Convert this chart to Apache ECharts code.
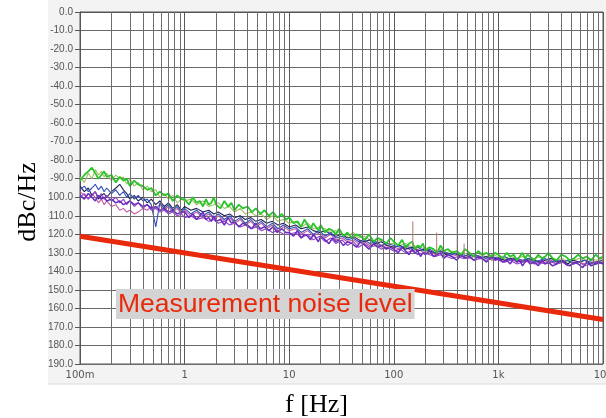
<!DOCTYPE html>
<html>
<head>
<meta charset="utf-8">
<script src="https://cdn.jsdelivr.net/npm/echarts@6/dist/echarts.min.js"></script>
<style>
  html, body { margin: 0; padding: 0; background: #fff; }
  #chart { width: 606px; height: 418px; }
</style>
</head>
<body>
<div id="chart"></div>
<script>
// ---- data ----
// coarse frequency grid (Hz)
const freq = [
  0.10,0.11,0.12,0.13,0.14,0.15,0.16,0.17,0.18,0.20,0.22,0.24,0.26,0.28,0.30,0.33,0.36,0.40,0.44,0.48,0.53,0.58,0.64,0.70,0.77,0.85,0.93,
  1.0,1.15,1.3,1.5,1.7,1.9,2.1,2.4,2.7,3.0,3.4,3.8,4.3,4.8,5.4,6.1,6.9,7.8,8.8,
  10,11.5,13,15,17,19.5,22,25,28,32,36,41,46,52,59,67,76,86,
  100,115,130,150,170,195,220,250,280,320,360,410,460,520,590,670,760,860,
  1000,1150,1300,1500,1700,1950,2200,2500,2800,3200,3600,4100,4600,5200,5900,6700,7600,8600,10000
];
// dense frequency grid (Hz) for the two dominant traces
const denseFreq = [
  0.10,0.11,0.12,0.13,0.14,0.15,0.16,0.17,0.18,0.20,0.22,0.24,0.26,0.28,0.30,0.33,0.36,0.40,0.44,0.48,0.53,0.58,0.64,0.70,0.77,0.85,0.93,
  1.0,1.1,1.2,1.3,1.4,1.5,1.6,1.7,1.8,1.9,2.0,2.2,2.4,2.6,2.8,3.0,3.3,3.6,4.0,4.4,4.8,5.3,5.8,6.4,7.0,7.7,8.5,9.3,
  10,11,12,13,14,15,16,17,18,19,20,22,24,26,28,30,33,36,40,44,48,53,58,64,70,77,85,93,
  100,110,120,130,140,150,160,170,180,190,200,220,240,260,280,300,330,360,400,440,480,530,580,640,700,770,850,930,
  1000,1100,1200,1300,1400,1500,1600,1700,1800,1900,2000,2200,2400,2600,2800,3000,3300,3600,4000,4400,4800,5300,5800,6400,7000,7700,8500,9300,10000
];

const olive = [
  -89,-92,-87,-90,-85,-88,-86,-89,-87,-91,-88,-90,-89,-93,-90,-94,-92,-96,-94,-97,-96,-100,-98,-101,-99,-103,-101,
  -102,-101,-104,-102,-105,-104,-103,-106,-105,-108,-106,-109,-108,-110,-109,-112,-110,-113,-112,
  -114,-113,-116,-114,-117,-116,-117,-119,-118,-120,-121,-119,-122,-121,-123,-124,-123,-125,
  -125,-126,-125,-127,-126,-128,-127,-129,-128,-130,-129,-131,-130,-131,-132,-131,-132,-131,
  -132,-133,-132,-133,-132,-134,-133,-132,-134,-133,-134,-133,-135,-134,-133,-134,-133,-134,-133
];
const pink = [
  -97,-99,-101,-98,-100,-103,-101,-104,-102,-105,-104,-107,-106,-108,-107,-109,-108,-106,-107,-105,-106,-104,-107,-105,-108,-106,-109,
  -107,-110,-108,-111,-109,-112,-110,-113,-111,-114,-112,-115,-113,-116,-114,-117,-115,-118,-116,
  -118,-117,-120,-118,-121,-119,-122,-120,-123,-122,-124,-123,-125,-124,-126,-125,-127,-126,
  -127,-128,-127,-129,-128,-130,-129,-131,-130,-131,-132,-131,-132,-133,-132,-133,-132,-134,
  -133,-134,-133,-135,-134,-135,-134,-136,-135,-134,-136,-135,-134,-136,-135,-136,-134,-135,-136
];
const navy = [
  -94,-97,-95,-99,-97,-101,-99,-98,-100,-97,-95,-93,-96,-98,-101,-99,-102,-100,-103,-101,-104,-102,-105,-103,-106,-104,-107,
  -105,-107,-106,-108,-107,-109,-108,-110,-109,-111,-110,-112,-111,-113,-112,-114,-113,-115,-114,
  -116,-115,-117,-116,-118,-119,-118,-120,-121,-120,-122,-121,-123,-124,-123,-125,-124,-126,
  -127,-126,-128,-127,-129,-128,-129,-130,-129,-131,-130,-131,-132,-131,-132,-133,-132,-133,
  -133,-134,-133,-134,-135,-133,-134,-135,-134,-133,-135,-134,-136,-134,-135,-134,-136,-135,-134
];
const blue = [
  -96,-94,-97,-95,-93,-96,-94,-97,-95,-98,-96,-99,-97,-100,-98,-101,-99,-102,-101,-104,-116,-103,-106,-104,-107,-105,-108,
  -106,-109,-107,-110,-108,-111,-109,-112,-110,-113,-111,-114,-112,-115,-113,-116,-114,-117,-115,
  -117,-116,-119,-117,-120,-118,-121,-119,-122,-121,-123,-122,-124,-123,-125,-124,-126,-125,
  -126,-127,-126,-128,-127,-129,-128,-130,-129,-130,-131,-130,-131,-132,-131,-132,-133,-132,
  -133,-132,-134,-133,-134,-133,-135,-134,-133,-135,-134,-135,-134,-136,-135,-134,-135,-136,-135
];
const violet = [
  -100,-98,-101,-99,-97,-100,-98,-101,-99,-102,-100,-103,-101,-104,-102,-105,-103,-106,-104,-107,-106,-108,-107,-109,-108,-110,-109,
  -111,-110,-112,-111,-113,-112,-114,-113,-115,-114,-116,-115,-117,-116,-118,-117,-119,-118,-120,
  -120,-119,-122,-120,-123,-121,-124,-122,-125,-123,-126,-124,-127,-125,-127,-126,-128,-127,
  -129,-128,-130,-129,-131,-130,-131,-132,-131,-132,-133,-132,-133,-132,-134,-133,-134,-133,
  -134,-135,-134,-136,-135,-134,-136,-135,-136,-135,-136,-135,-137,-136,-135,-137,-136,-135,-136
];
// dense traces (on denseFreq)
const purple = [
  -99,-101,-98,-100,-102,-99,-101,-100,-102,-101,-103,-102,-104,-103,-102,-104,-103,-105,-104,-106,-105,-107,-106,-108,-107,-109,-108,
  -108,-111,-109,-112,-110,-108,-112,-111,-113,-110,-113,-112,-115,-111,-114,-113,-116,-114,-115,-117,-114,-117,-116,-118,-116,-119,-117,-119,
  -119,-121,-118,-122,-120,-121,-123,-120,-122,-124,-121,-123,-125,-122,-124,-123,-126,-124,-125,-127,-124,-126,-128,-125,-127,-126,-128,-127,
  -128,-130,-127,-129,-131,-128,-130,-129,-132,-130,-131,-129,-132,-131,-130,-133,-131,-132,-134,-131,-133,-132,-134,-132,-133,-135,-132,-134,
  -133,-135,-134,-136,-133,-135,-134,-137,-135,-134,-136,-135,-137,-134,-136,-135,-137,-136,-134,-136,-137,-135,-136,-138,-135,-137,-136,-135,-136
];
const green = [
  -91,-88,-86,-84,-87,-90,-88,-86,-89,-88,-92,-89,-91,-90,-94,-91,-93,-94,-96,-95,-99,-97,-99,-98,-102,-99,-101,
  -101,-104,-100,-103,-102,-105,-101,-104,-103,-100,-104,-106,-102,-105,-103,-107,-104,-106,-105,-108,-106,-109,-107,-110,-108,-111,-109,-112,
  -111,-114,-113,-116,-112,-115,-117,-114,-116,-118,-115,-119,-117,-118,-120,-117,-121,-119,-122,-120,-121,-123,-120,-124,-122,-123,-125,-122,
  -124,-126,-123,-127,-125,-124,-128,-126,-127,-125,-129,-127,-128,-130,-126,-129,-128,-130,-129,-131,-128,-130,-132,-129,-131,-130,-132,-130,
  -131,-133,-130,-132,-131,-134,-132,-130,-133,-131,-132,-134,-131,-133,-132,-130,-133,-134,-131,-132,-134,-133,-131,-133,-132,-134,-131,-133,-132
];

// spurs (vertical spikes)
const spikeFreq = [152, 257, 404, 470, 9950];
const spikeBase = [-127, -130, -130, -131, -135];
const spikeTop  = [-113, -119, -112, -125, -120];

// measurement noise level line
const noiseFreq  = [0.1, 10000];
const noiseLevel = [-121, -166];

// axis ticks / grid
const xTickLabels = ['100m', '1', '10', '100', '1k', '10k'];
const minorGridFreq = [
  0.2,0.3,0.4,0.5,0.6,0.7,0.8,0.9,
  2,3,4,5,6,7,8,9,
  20,30,40,50,60,70,80,90,
  200,300,400,500,600,700,800,900,
  2000,3000,4000,5000,6000,7000,8000,9000
];

// ---- chart ----
const traces = [
  { name: 'olive',  color: '#a3bf60', width: 1.1, f: freq, values: olive },
  { name: 'pink',   color: '#c35aa6', width: 1.1, f: freq, values: pink },
  { name: 'navy',   color: '#1f2358', width: 1.1, f: freq, values: navy },
  { name: 'blue',   color: '#3050b8', width: 1.1, f: freq, values: blue },
  { name: 'violet', color: '#9440cc', width: 1.1, f: freq, values: violet },
  { name: 'purple', color: '#6a2cc0', width: 1.5, f: denseFreq, values: purple },
  { name: 'green',  color: '#2ac42c', width: 1.8, f: denseFreq, values: green }
];

const series = [];
series.push({
  type: 'line', data: [], z: 1, silent: true,
  markLine: {
    silent: true, symbol: 'none', animation: false,
    label: { show: false },
    lineStyle: { color: '#6e6e6e', width: 1, type: 'solid' },
    data: minorGridFreq.map(f => ({ xAxis: f }))
  }
});
traces.forEach(t => {
  series.push({
    name: t.name, type: 'line', symbol: 'none', z: 3,
    lineStyle: { color: t.color, width: t.width },
    itemStyle: { color: t.color },
    data: t.f.map((f, i) => [f, t.values[i]])
  });
});
spikeFreq.forEach((f, i) => {
  series.push({
    type: 'line', symbol: 'none', z: 3,
    lineStyle: { color: '#b07868', width: 1 },
    data: [[f, spikeBase[i]], [f, spikeTop[i]]]
  });
});
series.push({
  name: 'noise', type: 'line', symbol: 'none', z: 5,
  lineStyle: { color: '#e8290b', width: 5 },
  data: noiseFreq.map((f, i) => [f, noiseLevel[i]])
});

const chart = echarts.init(document.getElementById('chart'), null, { renderer: 'canvas' });
chart.setOption({
  animation: false,
  backgroundColor: '#ffffff',
  grid: {
    left: 80, right: 3, top: 12, bottom: 54,
    outerBoundsMode: 'none', containLabel: false,
    show: true, backgroundColor: '#ffffff', borderColor: '#555', borderWidth: 1
  },
  xAxis: {
    type: 'log', logBase: 10, min: 0.1, max: 10000,
    name: 'f [Hz]', nameLocation: 'middle', nameGap: 28,
    nameTextStyle: { fontFamily: 'Liberation Serif', fontSize: 26, color: '#000', padding: [0, 50, 0, 0] },
    axisLine: { show: true, lineStyle: { color: '#555' } },
    axisTick: { show: true, length: 3, lineStyle: { color: '#555' } },
    axisLabel: {
      show: true, margin: 6, color: '#555', fontFamily: 'DejaVu Sans', fontSize: 10,
      showMinLabel: true, showMaxLabel: true,
      formatter: v => xTickLabels[Math.round(Math.log10(v)) + 1]
    },
    splitLine: { show: true, lineStyle: { color: '#5a5a5a', width: 1 } },
    minorTick: { show: false }
  },
  yAxis: {
    type: 'value', min: -190, max: 0, interval: 10,
    axisLine: { show: true, lineStyle: { color: '#555' } },
    axisTick: { show: true, length: 5, lineStyle: { color: '#555' } },
    axisLabel: {
      margin: 7, color: '#555', fontFamily: 'Liberation Sans', fontSize: 10,
      formatter: v => v.toFixed(1)
    },
    splitLine: { show: true, lineStyle: { color: '#6a6a6a', width: 1 } }
  },
  graphic: [
    { type: 'rect', z: -10, silent: true, shape: { x: 48, y: 0, width: 558, height: 384 }, style: { fill: '#f3f3f3' } },
    { type: 'line', z: -9, silent: true, shape: { x1: 48, y1: 384, x2: 606, y2: 384 }, style: { stroke: '#dcdcdc', lineWidth: 1 } },
    { type: 'rect', z: 100, silent: true, shape: { x: 0, y: 0, width: 48, height: 418 }, style: { fill: '#ffffff' } },
    {
      type: 'text', z: 101, silent: true, x: 28, y: 202, rotation: Math.PI / 2,
      style: { text: 'dBc/Hz', font: '26px "Liberation Serif"', fill: '#000', textAlign: 'center', textVerticalAlign: 'middle' }
    },
    {
      type: 'text', z: 101, silent: true, x: 116, y: 289,
      style: {
        text: 'Measurement noise level', font: '26.5px "Liberation Sans"', fill: '#e8290b',
        backgroundColor: '#d4d4d4', padding: [2, 2, 1, 2], lineHeight: 27, verticalAlign: 'top'
      }
    }
  ],
  series: series
});
</script>
</body>
</html>
